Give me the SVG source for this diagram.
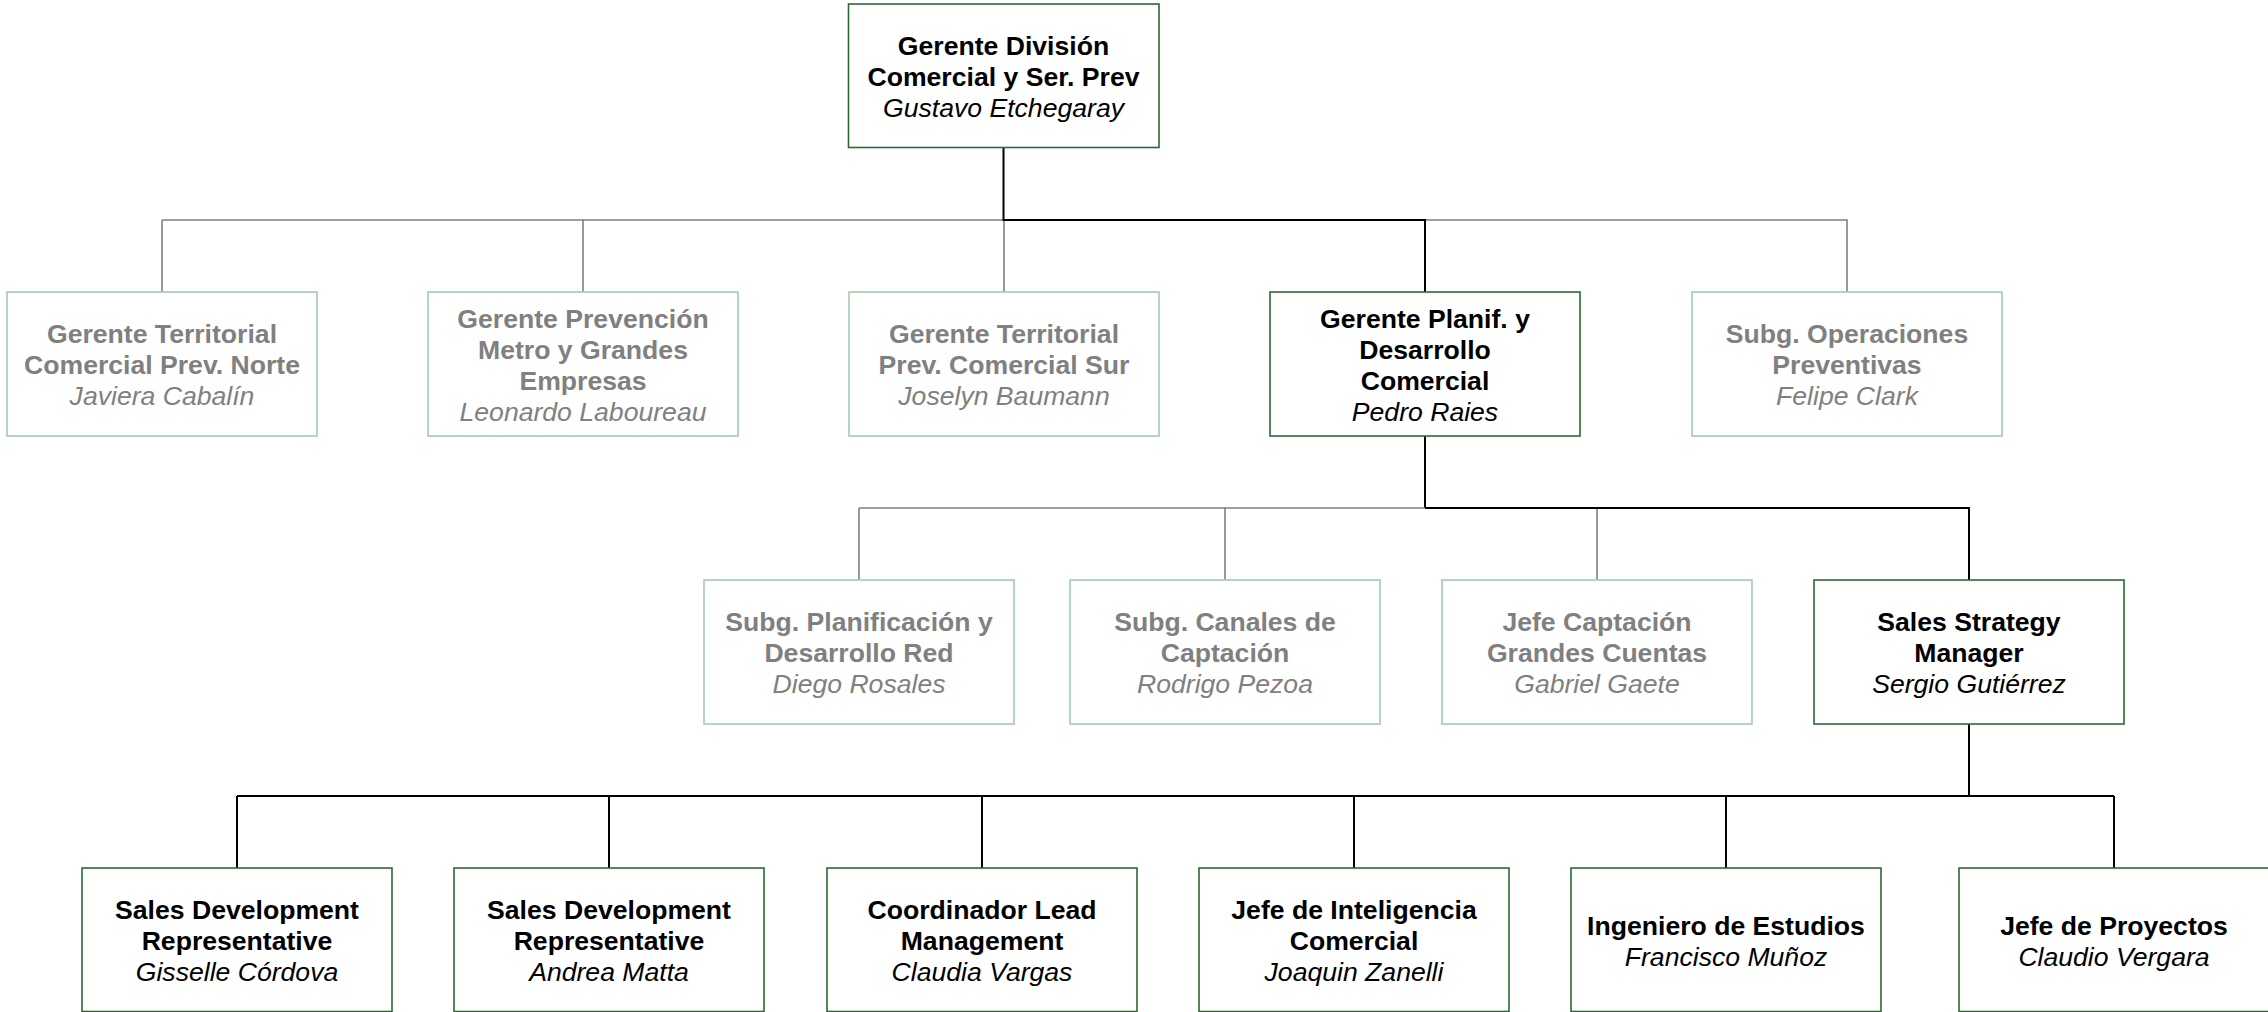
<svg xmlns="http://www.w3.org/2000/svg" width="2268" height="1012" viewBox="0 0 2268 1012">
<style>
  .box{fill:#ffffff;stroke-width:1.6}
  .on{stroke:#2a6a35}
  .off{stroke:#a6cbac}
  text{font-family:"Liberation Sans",Arial,sans-serif;font-size:26.6px;text-anchor:middle}
  .t{font-weight:bold}
  .n{font-style:italic}
  .on-t{fill:#000000}
  .off-t{fill:#808080}
  .lk{stroke:#000000;stroke-width:2;fill:none}
  .lg{stroke:#808080;stroke-width:1.6;fill:none}
</style>
<rect width="2268" height="1012" fill="#ffffff"/>
<g id="connectors">
  <path class="lg" d="M162 220 H1003.5 M583 220 V292 M1004 220 V292 M162 220 V292 M1425 220 H1847 V292"/>
  <path class="lk" d="M1003.5 148 V220 H1425 V292"/>
  <path class="lk" d="M1425 436 V508"/>
  <path class="lg" d="M859 508 H1425 M859 508 V580 M1225 508 V580 M1597 508 V580"/>
  <path class="lk" d="M1425 508 H1969 V580"/>
  <path class="lk" d="M1969 724 V796 M237 796 H2114 M237 796 V868 M609 796 V868 M982 796 V868 M1354 796 V868 M1726 796 V868 M2114 796 V868"/>
</g>
<g id="n-gustavo">
  <rect class="box on" x="848.5" y="4" width="310.5" height="143.5"/>
  <text class="on-t t" x="1003.5" y="55">Gerente División</text>
  <text class="on-t t" x="1003.5" y="86">Comercial y Ser. Prev</text>
  <text class="on-t n" x="1003.5" y="117">Gustavo Etchegaray</text>
</g>
<g id="n-javiera">
  <rect class="box off" x="7" y="292" width="310" height="144"/>
  <text class="off-t t" x="162" y="343">Gerente Territorial</text>
  <text class="off-t t" x="162" y="374">Comercial Prev. Norte</text>
  <text class="off-t n" x="162" y="405">Javiera Cabalín</text>
</g>
<g id="n-leonardo">
  <rect class="box off" x="428" y="292" width="310" height="144"/>
  <text class="off-t t" x="583" y="327.5">Gerente Prevención</text>
  <text class="off-t t" x="583" y="358.5">Metro y Grandes</text>
  <text class="off-t t" x="583" y="389.5">Empresas</text>
  <text class="off-t n" x="583" y="420.5">Leonardo Laboureau</text>
</g>
<g id="n-joselyn">
  <rect class="box off" x="849" y="292" width="310" height="144"/>
  <text class="off-t t" x="1004" y="343">Gerente Territorial</text>
  <text class="off-t t" x="1004" y="374">Prev. Comercial Sur</text>
  <text class="off-t n" x="1004" y="405">Joselyn Baumann</text>
</g>
<g id="n-pedro">
  <rect class="box on" x="1270" y="292" width="310" height="144"/>
  <text class="on-t t" x="1425" y="327.5">Gerente Planif. y</text>
  <text class="on-t t" x="1425" y="358.5">Desarrollo</text>
  <text class="on-t t" x="1425" y="389.5">Comercial</text>
  <text class="on-t n" x="1425" y="420.5">Pedro Raies</text>
</g>
<g id="n-felipe">
  <rect class="box off" x="1692" y="292" width="310" height="144"/>
  <text class="off-t t" x="1847" y="343">Subg. Operaciones</text>
  <text class="off-t t" x="1847" y="374">Preventivas</text>
  <text class="off-t n" x="1847" y="405">Felipe Clark</text>
</g>
<g id="n-diego">
  <rect class="box off" x="704" y="580" width="310" height="144"/>
  <text class="off-t t" x="859" y="631">Subg. Planificación y</text>
  <text class="off-t t" x="859" y="662">Desarrollo Red</text>
  <text class="off-t n" x="859" y="693">Diego Rosales</text>
</g>
<g id="n-rodrigo">
  <rect class="box off" x="1070" y="580" width="310" height="144"/>
  <text class="off-t t" x="1225" y="631">Subg. Canales de</text>
  <text class="off-t t" x="1225" y="662">Captación</text>
  <text class="off-t n" x="1225" y="693">Rodrigo Pezoa</text>
</g>
<g id="n-gabriel">
  <rect class="box off" x="1442" y="580" width="310" height="144"/>
  <text class="off-t t" x="1597" y="631">Jefe Captación</text>
  <text class="off-t t" x="1597" y="662">Grandes Cuentas</text>
  <text class="off-t n" x="1597" y="693">Gabriel Gaete</text>
</g>
<g id="n-sergio">
  <rect class="box on" x="1814" y="580" width="310" height="144"/>
  <text class="on-t t" x="1969" y="631">Sales Strategy</text>
  <text class="on-t t" x="1969" y="662">Manager</text>
  <text class="on-t n" x="1969" y="693">Sergio Gutiérrez</text>
</g>
<g id="n-gisselle">
  <rect class="box on" x="82" y="868" width="310" height="143.5"/>
  <text class="on-t t" x="237" y="919">Sales Development</text>
  <text class="on-t t" x="237" y="950">Representative</text>
  <text class="on-t n" x="237" y="981">Gisselle Córdova</text>
</g>
<g id="n-andrea">
  <rect class="box on" x="454" y="868" width="310" height="143.5"/>
  <text class="on-t t" x="609" y="919">Sales Development</text>
  <text class="on-t t" x="609" y="950">Representative</text>
  <text class="on-t n" x="609" y="981">Andrea Matta</text>
</g>
<g id="n-claudia">
  <rect class="box on" x="827" y="868" width="310" height="143.5"/>
  <text class="on-t t" x="982" y="919">Coordinador Lead</text>
  <text class="on-t t" x="982" y="950">Management</text>
  <text class="on-t n" x="982" y="981">Claudia Vargas</text>
</g>
<g id="n-joaquin">
  <rect class="box on" x="1199" y="868" width="310" height="143.5"/>
  <text class="on-t t" x="1354" y="919">Jefe de Inteligencia</text>
  <text class="on-t t" x="1354" y="950">Comercial</text>
  <text class="on-t n" x="1354" y="981">Joaquin Zanelli</text>
</g>
<g id="n-francisco">
  <rect class="box on" x="1571" y="868" width="310" height="143.5"/>
  <text class="on-t t" x="1726" y="934.5">Ingeniero de Estudios</text>
  <text class="on-t n" x="1726" y="965.5">Francisco Muñoz</text>
</g>
<g id="n-claudio">
  <rect class="box on" x="1959" y="868" width="310" height="143.5"/>
  <text class="on-t t" x="2114" y="934.5">Jefe de Proyectos</text>
  <text class="on-t n" x="2114" y="965.5">Claudio Vergara</text>
</g>
</svg>
